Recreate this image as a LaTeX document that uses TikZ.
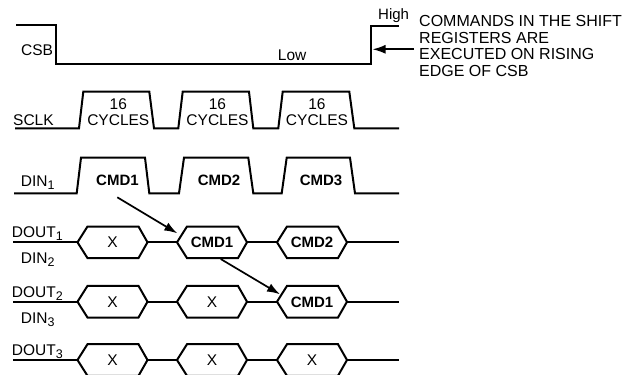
\documentclass[tikz,border=0pt]{standalone}
\usepackage{fontspec}
\setmainfont{Liberation Sans}
\usetikzlibrary{arrows.meta}
\newcommand\lowsub[1]{\raisebox{-3pt}{\fontsize{12.5}{12.5}\selectfont #1}}
\tikzset{
 sig/.style={line width=2pt, line join=miter},
 lbl/.style={inner sep=0pt, anchor=base west, font=\fontsize{15.5}{16}\selectfont},
 ctr/.style={inner sep=0pt, anchor=base, font=\fontsize{15.5}{16}\selectfont},
 boldtxt/.style={inner sep=0pt, anchor=base, font=\fontsize{15}{16}\selectfont\bfseries},
 note/.style={inner sep=0pt, anchor=base west, font=\fontsize{16}{16}\selectfont},
 pointer/.style={line width=1.7pt, -{Latex[length=13pt,width=9pt]}},
 hexsig/.pic={\draw[sig] (0,0) -- (10,-15.8) -- (61,-15.8) -- (70,0) -- (61,15.8) -- (10,15.8) -- cycle;},
}
\begin{document}
\begin{tikzpicture}[x=1pt,y=-1pt]
\useasboundingbox (0,0) rectangle (635,375);
\clip (0,0) rectangle (635,375);

% CSB
\draw[sig] (16,25) -- (56,25) -- (56,64) -- (371,64) -- (371,25.5) -- (399,25.5);
\node[lbl] (csb) at (21,55) {CSB};
\node[lbl] (low) at (277.7,60) {Low};
\node[lbl,font=\fontsize{15}{16}\selectfont] (high) at (378,19) {High};
\coordinate (ns) at (414,49.3);
\coordinate (ne) at (372.5,49.3);
\draw[pointer] (ns) -- (ne);
\node[note] (n1) at (419,26.7) {COMMANDS IN THE SHIFT};
\node[note] (n2) at (419,43) {REGISTERS ARE};
\node[note] (n3) at (419,59.5) {EXECUTED ON RISING};
\node[note] (n4) at (419,76) {EDGE OF CSB};

% SCLK
\node[lbl] (sclk) at (13,125) {SCLK};
\draw[sig] (15,128.3) -- (79,128.3) -- (83.3,91.7) -- (149.3,91.7) -- (154,128.3)
  -- (178.3,128.3) -- (182.7,91.7) -- (249,91.7) -- (253.3,128.3)
  -- (278.3,128.3) -- (282.7,91.7) -- (349.3,91.7) -- (354.3,128.3) -- (399,128.3);
\node[ctr] (s1a) at (118.3,109) {16};
\node[ctr] (s1b) at (118.3,125) {CYCLES};
\node[ctr] (s2a) at (217.5,109) {16};
\node[ctr] (s2b) at (217.5,125) {CYCLES};
\node[ctr] (s3a) at (317,109) {16};
\node[ctr] (s3b) at (317,125) {CYCLES};

% DIN1
\node[lbl] (din1) at (20.7,186.5) {DIN\lowsub{1}};
\draw[sig] (14,193.3) -- (76.7,193.3) -- (81,157.7) -- (145,157.7) -- (149.3,193.3)
  -- (179,193.3) -- (184,157.7) -- (248.3,157.7) -- (253.3,193.3)
  -- (281.7,193.3) -- (286.7,157.7) -- (350,157.7) -- (355,193.3) -- (399,193.3);
\node[boldtxt] (c1) at (117.5,185.7) {CMD1};
\node[boldtxt] (c2) at (219,185.7) {CMD2};
\node[boldtxt] (c3) at (321,185.7) {CMD3};

% Hex rows
\foreach \yy in {242.3, 301.7, 360} {
  \draw[sig] (13,\yy) -- (77.5,\yy);
  \draw[sig] (147.5,\yy) -- (177,\yy);
  \draw[sig] (247,\yy) -- (277,\yy);
  \draw[sig] (347,\yy) -- (399,\yy);
  \pic at (77.5,\yy) {hexsig};
  \pic at (177,\yy) {hexsig};
  \pic at (277,\yy) {hexsig};
}
\node[lbl] (dout1) at (11.7,237.7) {DOUT\lowsub{1}};
\node[lbl] (din2) at (20.7,263.3) {DIN\lowsub{2}};
\node[lbl] (dout2) at (11.7,297.5) {DOUT\lowsub{2}};
\node[lbl] (din3) at (20.7,323) {DIN\lowsub{3}};
\node[lbl] (dout3) at (11.7,355) {DOUT\lowsub{3}};

\node[ctr] (h11) at (112.5,247.7) {X};
\node[boldtxt] (h12) at (212,247.7) {CMD1};
\node[boldtxt] (h13) at (312,247.7) {CMD2};
\node[ctr] (h21) at (112.5,307.1) {X};
\node[ctr] (h22) at (212,307.1) {X};
\node[boldtxt] (h23) at (312,307.1) {CMD1};
\node[ctr] (h31) at (112.5,365.4) {X};
\node[ctr] (h32) at (212,365.4) {X};
\node[ctr] (h33) at (312,365.4) {X};

% shift arrows
\coordinate (a1s) at (117.3,197.3);
\coordinate (a1e) at (177.3,233.3);
\coordinate (a2s) at (220.7,259);
\coordinate (a2e) at (280,294.3);
\draw[pointer] (a1s) -- (a1e);
\draw[pointer] (a2s) -- (a2e);
\end{tikzpicture}
\end{document}
